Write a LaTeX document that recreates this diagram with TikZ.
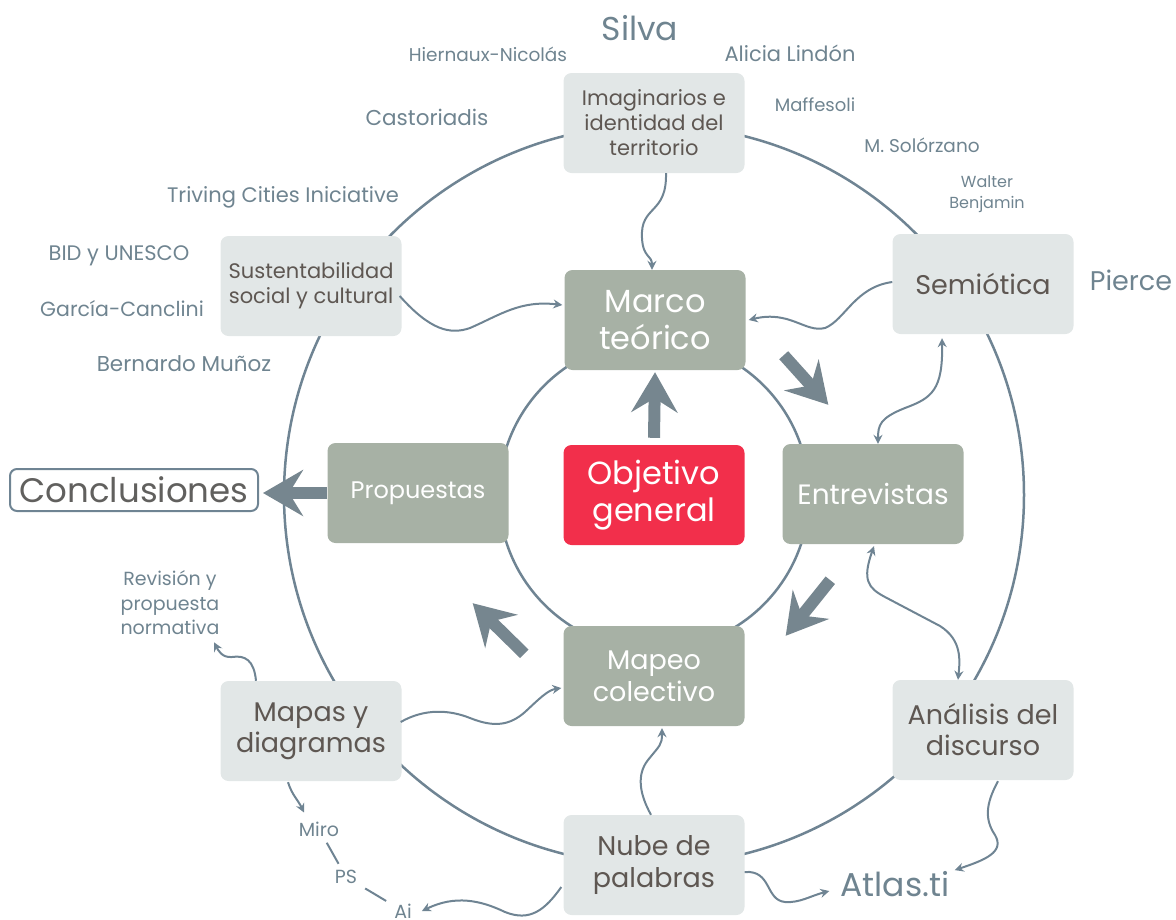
\documentclass[tikz,border=0pt]{standalone}
\usepackage{fontspec}
\setmainfont{Poppins}
\usepackage{tikz}
\usetikzlibrary{calc,arrows.meta}
\definecolor{boxlight}{HTML}{E2E7E7}
\definecolor{boxtext}{HTML}{5E5752}
\definecolor{boxdark}{HTML}{A7B1A5}
\definecolor{redbox}{HTML}{F22F4B}
\definecolor{ringc}{HTML}{6F8493}
\definecolor{bigc}{HTML}{76868F}
\definecolor{labelc}{HTML}{6F8490}
\newcommand{\fsz}[2]{\fontsize{#1}{#2}\selectfont}

\begin{document}
\begin{tikzpicture}[x=1pt,y=-1pt,
    lbox/.style={fill=boxlight,text=boxtext,rounded corners=8pt,minimum width=181pt,minimum height=100pt,align=center,inner sep=2pt},
    dbox/.style={lbox,fill=boxdark,text=white},
    lbl/.style={text=labelc,align=center,inner sep=1pt},
    link/.style={draw=ringc,line width=2pt,-{Stealth[length=9pt,width=9pt,inset=3pt]}},
    dlink/.style={link,{Stealth[length=9pt,width=9pt,inset=3pt]}-{Stealth[length=9pt,width=9pt,inset=3pt]}},
    big/.style={draw=bigc,line width=12pt,-{Stealth[length=40pt,width=46pt,inset=14pt]}}]
  \useasboundingbox (0,0) rectangle (1176,919);

  \draw[ringc,line width=2.5pt] (654,495) circle[radius=370pt];
  \draw[ringc,line width=2.5pt] (654,495) circle[radius=155pt];

  \node[lbox,font=\fsz{21}{25}] (imag) at (654,123) {Imaginarios e\\identidad del\\territorio};
  \node[lbox,font=\fsz{21}{25}] (sust) at (311,286) {Sustentabilidad\\social y cultural};
  \node[lbox,font=\fsz{27}{32}] (semi) at (983,284) {Semiótica};
  \node[lbox,font=\fsz{27}{31}] (mapas) at (311,731) {Mapas y\\diagramas};
  \node[lbox,font=\fsz{27}{31}] (anal) at (983,730) {Análisis del\\discurso};
  \node[lbox,font=\fsz{27}{32}] (nube) at (654,865) {Nube de\\palabras};

  \node[dbox,font=\fsz{32}{37}] (marco) at (655,320) {Marco\\teórico};
  \node[dbox,font=\fsz{24}{30}] (prop) at (418,493) {Propuestas};
  \node[dbox,font=\fsz{28}{32}] (entr) at (873,494) {Entrevistas};
  \node[dbox,font=\fsz{27}{32}] (mapeo) at (654,676) {Mapeo\\colectivo};
  \node[dbox,fill=redbox,font=\fsz{32}{37}] (obj) at (654,495) {Objetivo\\general};

  \node[draw=ringc,line width=2pt,rounded corners=7pt,text=boxtext!80!labelc,minimum width=248pt,minimum height=42pt,inner sep=1pt,font=\fsz{34}{40}] (concl) at (134,490) {Conclusiones};

  \node[lbl,font=\fsz{33}{40}] (silva) at (640,28) {Silva};
  \node[lbl,font=\fsz{18.5}{22}] (hier) at (488,54) {Hiernaux-Nicolás};
  \node[lbl,font=\fsz{21}{25}] (alicia) at (790,53) {Alicia Lindón};
  \node[lbl,font=\fsz{21.5}{25}] (casto) at (427,117) {Castoriadis};
  \node[lbl,font=\fsz{18}{22}] (maff) at (815,105) {Maffesoli};
  \node[lbl,font=\fsz{18.5}{22}] (solo) at (922,145) {M. Solórzano};
  \node[lbl,font=\fsz{16}{21}] (walter) at (987,194) {Walter\\Benjamin};
  \node[lbl,font=\fsz{21}{25}] (triving) at (283,197) {Triving Cities Iniciative};
  \node[lbl,font=\fsz{21}{25}] (bid) at (119,256) {BID y UNESCO};
  \node[lbl,font=\fsz{20.5}{25}] (garcia) at (122,309) {García-Canclini};
  \node[lbl,font=\fsz{21.5}{25}] (bernardo) at (184,364) {Bernardo Muñoz};
  \node[lbl,font=\fsz{27}{30}] (pierce) at (1131,280) {Pierce};
  \node[lbl,font=\fsz{19}{24.5}] (rev) at (170,603) {Revisión y\\propuesta\\normativa};
  \node[lbl,font=\fsz{19}{24}] (miro) at (319,829) {Miro};
  \node[lbl,font=\fsz{19}{24}] (ps) at (346,877) {PS};
  \node[lbl,font=\fsz{19}{24}] (ai) at (403,911) {Ai};
  \node[lbl,font=\fsz{33}{40}] (atlas) at (895,884) {Atlas.ti};

  \draw[link] ($(imag.south)+(12,0)$) .. controls (667,215) and (640,205) .. (642,238) .. controls (643,258) and (652,255) .. ($(marco.north)+(-3,0)$);
  \draw[link] ($(sust.east)+(-2,10)$) .. controls (430,330) and (450,335) .. (470,328) .. controls (500,315) and (520,300) .. ($(marco.west)+(-2,-15)$);
  \draw[link] ($(semi.west)+(0,-2)$) .. controls (855,287) and (845,320) .. (825,328) .. controls (805,333) and (790,310) .. ($(marco.east)+(3,0)$);
  \draw[dlink] ($(entr.north)+(5,0)$) .. controls (878,425) and (880,418) .. (905,408) .. controls (932,398) and (943,390) .. ($(semi.south)+(-41,4)$);
  \draw[dlink] ($(entr.south)+(1,2)$) .. controls (862,580) and (868,588) .. (885,597) -- (940,626) .. controls (962,640) and (960,660) .. ($(anal.north)+(-25,0)$);
  \draw[link] ($(anal.south)+(15,1)$) .. controls (985,805) and (985,820) .. (995,835) .. controls (1005,852) and (985,860) .. ($(atlas.north east)+(4,0)$);
  \draw[link] ($(nube.east)+(0,7)$) .. controls (772,870) and (765,900) .. (785,902) .. controls (800,903) and (810,896) .. ($(atlas.west)+(-10,7)$);
  \draw[link] ($(nube.north)+(-3,0)$) .. controls (640,795) and (636,775) .. (648,760) .. controls (660,745) and (662,745) .. ($(mapeo.south)+(8,2)$);
  \draw[link] ($(mapas.east)+(-1,-9)$) .. controls (425,708) and (450,710) .. (470,718) .. controls (495,728) and (510,725) .. (525,712) .. controls (540,698) and (548,690) .. ($(mapeo.west)+(-2,12)$);
  \draw[link] ($(mapas.north)+(-55,0)$) .. controls (254,660) and (245,655) .. (232,657) .. controls (222,658) and (218,650) .. ($(rev.south)+(44,6)$);
  \draw[link] ($(mapas.south)+(-23,1)$) .. controls (292,795) and (298,800) .. ($(miro.north)+(-15,-8)$);
  \draw[ringc,line width=2pt,shorten <=6pt,shorten >=6pt] (miro) -- (ps);
  \draw[ringc,line width=2pt,shorten <=8pt,shorten >=8pt] (ps) -- (ai);
  \draw[link] ($(nube.west)+(-2,22)$) .. controls (545,910) and (530,922) .. (505,912) .. controls (480,900) and (455,895) .. ($(ai.east)+(9,0)$);

  \draw[big] ($(obj.north)+(0,-7)$) -- ($(marco.south)+(0,2)$);
  \draw[big] (prop.west) -- ($(prop.west -| concl.east)+(4,0)$);
  \draw[big] ($(marco.south east)+(38,-15)$) -- ($(entr.north west)+(46,-39)$);
  \draw[big] ($(entr.south west)+(48,36)$) -- ($(mapeo.north east)+(41,10)$);
  \draw[big] ($(mapeo.north west)+(-39,28)$) -- ($(prop.south east)+(-36,60)$);
\end{tikzpicture}
\end{document}
